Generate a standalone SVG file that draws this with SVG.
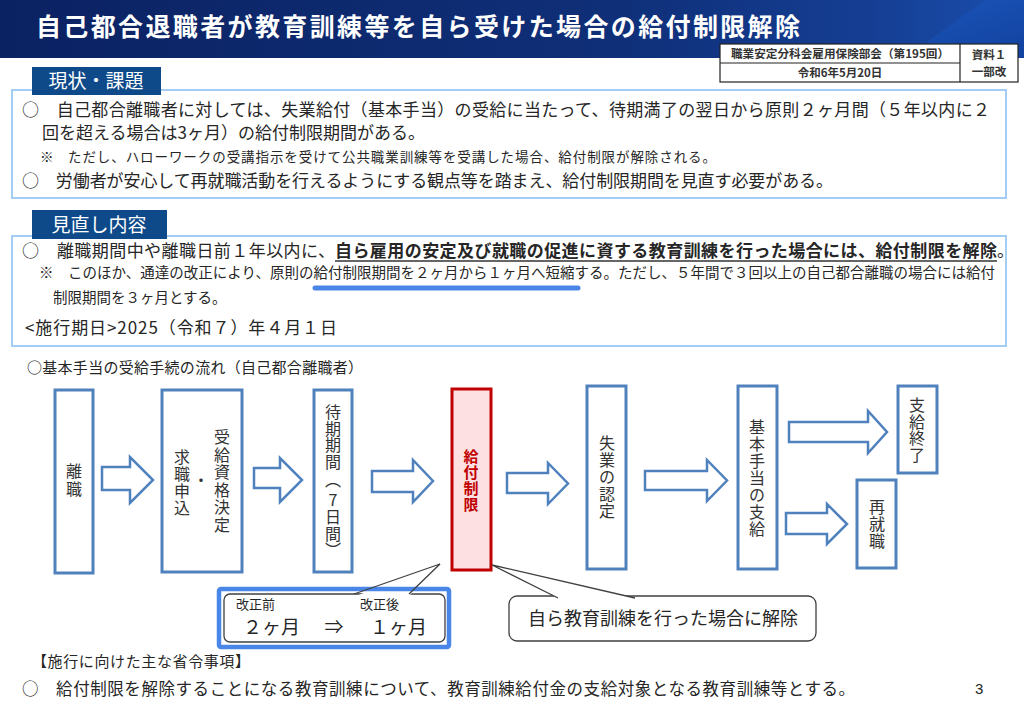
<svg xmlns="http://www.w3.org/2000/svg" width="1024" height="708" viewBox="0 0 1024 708">
<defs>
<linearGradient id="band" x1="0" y1="0" x2="1" y2="0">
<stop offset="0" stop-color="#0b2262"/>
<stop offset="0.6" stop-color="#0f2f78"/>
<stop offset="0.85" stop-color="#153e93"/>
<stop offset="1" stop-color="#1a4fae"/>
</linearGradient>
<linearGradient id="band2" x1="0" y1="0" x2="1" y2="1">
<stop offset="0" stop-color="#1d5cc4"/>
<stop offset="1" stop-color="#0f3d9a"/>
</linearGradient>
<style>
text{font-family:"Noto Sans CJK JP","Noto Sans",sans-serif;fill:#262626}
.b{font-size:17px}
.s{font-size:13.5px}
.m{font-size:14.5px}
.tab{fill:#0e4a8a}
.tabt{font-size:19px;fill:#ffffff;text-anchor:middle}
.sec{fill:#ffffff;stroke:#a4cdf3;stroke-width:2}
.box{fill:#ffffff;stroke:#4f81bd;stroke-width:3}
.red{fill:#fde0e2;stroke:#c00000;stroke-width:3}
.v{font-size:16px;text-anchor:middle;fill:#333333}
.vr{font-size:15px;text-anchor:middle;fill:#c00000;font-weight:bold}
.arr{fill:#ffffff;stroke:#4f81bd;stroke-width:2.5;stroke-linejoin:miter}
.meta{font-size:11.5px;font-weight:bold;text-anchor:middle;fill:#333333}
.ptr{fill:#ffffff;stroke:#404040;stroke-width:1.3}
</style>
</defs>
<rect width="1024" height="708" fill="#ffffff"/>

<g id="header">
<rect x="0" y="0" width="1024" height="58" fill="url(#band)"/>
<polygon points="905,58 985,0 1024,0 1024,58" fill="url(#band2)" opacity="0.75"/>
<text x="36" y="36" font-size="25" font-weight="bold" style="fill:#ffffff" textLength="764" lengthAdjust="spacing">自己都合退職者が教育訓練等を自ら受けた場合の給付制限解除</text>
</g>

<g id="meta">
<rect x="720" y="44" width="298" height="38" fill="#ffffff" stroke="#222222" stroke-width="1.2"/>
<line x1="960" y1="44" x2="960" y2="82" stroke="#222222" stroke-width="1.2"/>
<line x1="720" y1="63" x2="960" y2="63" stroke="#222222" stroke-width="1.2"/>
<text class="meta" x="840" y="58" textLength="218" lengthAdjust="spacingAndGlyphs">職業安定分科会雇用保険部会（第195回）</text>
<text class="meta" x="840" y="77">令和6年5月20日</text>
<text class="meta" x="989" y="59">資料１</text>
<text class="meta" x="989" y="76">一部改</text>
</g>

<g id="section1">
<rect class="sec" x="12" y="90" width="994" height="108"/>
<rect class="tab" x="32" y="67" width="129" height="28"/>
<text class="tabt" x="96" y="88">現状・課題</text>
<text class="b" x="22" y="116" textLength="968" lengthAdjust="spacing">○　自己都合離職者に対しては、失業給付（基本手当）の受給に当たって、待期満了の翌日から原則２ヶ月間（５年以内に２</text>
<text class="b" x="42" y="139">回を超える場合は3ヶ月）の給付制限期間がある。</text>
<text class="s" x="40" y="162">※</text>
<text class="s" x="68" y="162" textLength="648" lengthAdjust="spacing">ただし、ハローワークの受講指示を受けて公共職業訓練等を受講した場合、給付制限が解除される。</text>
<text class="b" x="22" y="187" textLength="811" lengthAdjust="spacing">○　労働者が安心して再就職活動を行えるようにする観点等を踏まえ、給付制限期間を見直す必要がある。</text>
</g>

<g id="section2">
<rect class="sec" x="12" y="236" width="994" height="110"/>
<rect class="tab" x="32" y="210" width="135" height="29"/>
<text class="tabt" x="99" y="232">見直し内容</text>
<text class="b" x="22" y="257" textLength="313" lengthAdjust="spacing">○　離職期間中や離職日前１年以内に、</text>
<text class="b" x="335" y="257" font-weight="bold" textLength="662" lengthAdjust="spacing">自ら雇用の安定及び就職の促進に資する教育訓練を行った場合には、給付制限を解除</text>
<line x1="335" y1="261" x2="997" y2="261" stroke="#333333" stroke-width="1.3"/>
<text class="b" x="997" y="257">。</text>
<line x1="315" y1="288" x2="578" y2="288" stroke="#4a86e8" stroke-width="5" stroke-linecap="round"/>
<text class="m" x="39" y="278">※</text>
<text class="m" x="68" y="278" textLength="927" lengthAdjust="spacing">このほか、通達の改正により、原則の給付制限期間を２ヶ月から１ヶ月へ短縮する。ただし、５年間で３回以上の自己都合離職の場合には給付</text>
<text class="m" x="53" y="303">制限期間を３ヶ月とする。</text>
<text class="b" x="25" y="334" textLength="312" lengthAdjust="spacing">&lt;施行期日&gt;2025（令和７）年４月１日</text>
</g>

<text id="flow-title" x="27" y="373" font-size="15" textLength="336" lengthAdjust="spacing">○基本手当の受給手続の流れ（自己都合離職者）</text>

<g id="node-rishoku">
<rect class="box" x="55" y="390" width="38" height="183"/>
<text class="v"><tspan x="74" y="477">離</tspan><tspan x="74" y="495">職</tspan></text>
</g>

<g id="node-jukyu">
<rect class="box" x="162" y="390" width="80" height="182"/>
<text class="v"><tspan x="222" y="443">受</tspan><tspan x="222" y="460.5">給</tspan><tspan x="222" y="478">資</tspan><tspan x="222" y="495.5">格</tspan><tspan x="222" y="513">決</tspan><tspan x="222" y="530.5">定</tspan></text>
<text class="v" x="201" y="486">・</text>
<text class="v"><tspan x="182" y="463">求</tspan><tspan x="182" y="480">職</tspan><tspan x="182" y="497">申</tspan><tspan x="182" y="514">込</tspan></text>
</g>

<g id="node-taiki">
<rect class="box" x="314" y="390" width="38" height="182"/>
<text class="v"><tspan x="333" y="418">待</tspan><tspan x="333" y="434.5">期</tspan><tspan x="333" y="451">期</tspan><tspan x="333" y="467.5">間</tspan><tspan x="333" y="486">︵</tspan><tspan x="333" y="506">7</tspan><tspan x="333" y="523">日</tspan><tspan x="333" y="539.5">間</tspan><tspan x="333" y="556">︶</tspan></text>
</g>

<g id="node-seigen">
<rect class="red" x="452" y="389" width="39" height="181"/>
<text class="vr"><tspan x="471" y="462">給</tspan><tspan x="471" y="478">付</tspan><tspan x="471" y="494">制</tspan><tspan x="471" y="510">限</tspan></text>
</g>

<g id="node-nintei">
<rect class="box" x="587" y="386" width="39" height="183"/>
<text class="v"><tspan x="607" y="449">失</tspan><tspan x="607" y="466">業</tspan><tspan x="607" y="483">の</tspan><tspan x="607" y="500">認</tspan><tspan x="607" y="517">定</tspan></text>
</g>

<g id="node-shikyu">
<rect class="box" x="738" y="386" width="39" height="183"/>
<text class="v"><tspan x="757" y="432.5">基</tspan><tspan x="757" y="449.5">本</tspan><tspan x="757" y="466.5">手</tspan><tspan x="757" y="483.5">当</tspan><tspan x="757" y="500.5">の</tspan><tspan x="757" y="517.5">支</tspan><tspan x="757" y="534.5">給</tspan></text>
</g>

<g id="node-shuryo">
<rect class="box" x="898" y="386" width="39" height="87"/>
<text class="v"><tspan x="917" y="411">支</tspan><tspan x="917" y="427.5">給</tspan><tspan x="917" y="444">終</tspan><tspan x="917" y="460.5">了</tspan></text>
</g>

<g id="node-sai">
<rect class="box" x="857" y="480" width="39" height="88"/>
<text class="v"><tspan x="877" y="513">再</tspan><tspan x="877" y="530">就</tspan><tspan x="877" y="547">職</tspan></text>
</g>

<g id="connectors">
<path class="arr" d="M102,467 H130 V457 L153,480 L130,503 V490 H102 Z"/>
<path class="arr" d="M254,468 H280 V458 L302,480 L280,502 V488 H254 Z"/>
<path class="arr" d="M372,471 H413 V460 L433,481 L413,502 V492 H372 Z"/>
<path class="arr" d="M507,473 H548 V463 L568,483.5 L548,504 V493 H507 Z"/>
<path class="arr" d="M645,471 H707 V460 L727,480.5 L707,501 V490 H645 Z"/>
<path class="arr" d="M789,422 H868 V411 L887,432 L868,453 V442 H789 Z"/>
<path class="arr" d="M786,513 H827 V504 L847,524 L827,544 V534 H786 Z"/>
</g>

<g id="callout-before-after">
<rect x="224" y="594" width="221" height="48" rx="6" fill="#ffffff" stroke="#404040" stroke-width="1.3"/>
<polygon points="356,596 440,564 409,596" fill="#ffffff"/>
<rect x="219" y="589" width="230" height="58" rx="2" fill="none" stroke="#4a86e8" stroke-width="4.5"/>
<polyline points="354,594 440,564 409,594" fill="none" stroke="#404040" stroke-width="1.3"/>
<text x="236" y="609" font-size="13">改正前</text>
<text x="360" y="609" font-size="13">改正後</text>
<text x="243" y="634" font-size="19">２ヶ月</text>
<text x="334" y="634" font-size="19" text-anchor="middle">⇒</text>
<text x="370" y="634" font-size="19">１ヶ月</text>
</g>

<g id="callout-release">
<rect x="509" y="596" width="307" height="45" rx="8" fill="#ffffff" stroke="#404040" stroke-width="1.3"/>
<polyline class="ptr" points="558,598 492,565 635,598"/>
<text x="663" y="625" font-size="18" text-anchor="middle">自ら教育訓練を行った場合に解除</text>
</g>

<g id="footer">
<text x="32" y="667" font-size="15" textLength="218" lengthAdjust="spacing">【施行に向けた主な省令事項】</text>
<text x="22" y="695" font-size="16.5" textLength="833" lengthAdjust="spacing">○　給付制限を解除することになる教育訓練について、教育訓練給付金の支給対象となる教育訓練等とする。</text>
<text x="975" y="694" font-size="15" style="font-family:'Liberation Sans',sans-serif">3</text>
</g>
</svg>
